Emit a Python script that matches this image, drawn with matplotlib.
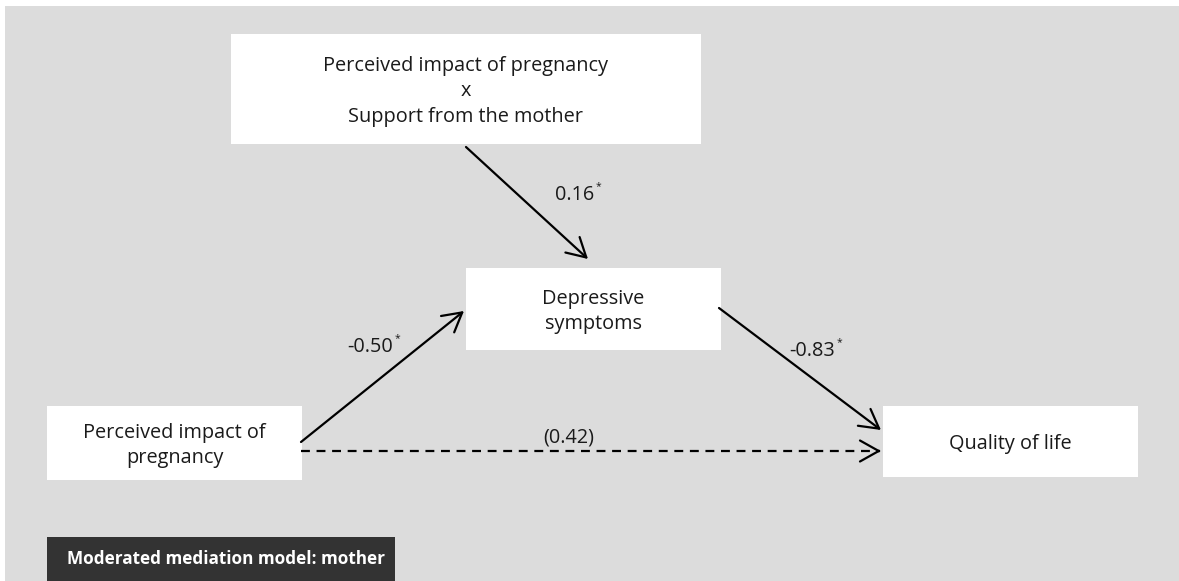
import matplotlib
matplotlib.use("Agg")
import matplotlib.pyplot as plt
from matplotlib.patches import Rectangle, FancyArrowPatch

# ---- content ----
node_names = ["moderator", "mediator", "predictor", "outcome"]
node_labels = [
    "Perceived impact of pregnancy\nx\nSupport from the mother",
    "Depressive\nsymptoms",
    "Perceived impact of\npregnancy",
    "Quality of life",
]
path_names = ["moderator->mediator", "predictor->mediator", "mediator->outcome", "predictor->outcome"]
path_coefs = ["0.16", "-0.50", "-0.83", "(0.42)"]
path_significant = [True, True, True, False]
path_dashed = [False, False, False, True]
title_text = "Moderated mediation model: mother"

# ---- layout (pixel coordinates, y downward) ----
W, H = 1179, 581
boxes = {
    "moderator": (231, 34, 470, 110),
    "mediator": (466, 268, 255, 82),
    "predictor": (47, 406, 255, 74),
    "outcome": (883, 406, 255, 71),
}
arrows = {
    "moderator->mediator": ((466, 147), (588, 259)),
    "predictor->mediator": ((301, 442), (464, 311)),
    "mediator->outcome": ((719, 308), (881, 430)),
    "predictor->outcome": ((301, 451), (881, 451)),
}
label_pos = {
    "moderator->mediator": (575, 195),
    "predictor->mediator": (370, 347),
    "mediator->outcome": (812, 351),
    "predictor->outcome": (569, 438),
}

FONT = ["Open Sans", "DejaVu Sans"]
plt.rcParams["font.family"] = FONT
FS = 14.3
TXT = "#1a1a1a"

fig = plt.figure(figsize=(W / 100, H / 100), dpi=100)
fig.patch.set_facecolor("white")
ax = fig.add_axes([0, 0, 1, 1])
ax.set_xlim(0, W)
ax.set_ylim(H, 0)
ax.axis("off")

# background panel
ax.add_patch(Rectangle((5, 6), W - 5, H - 6, facecolor="#dcdcdc", edgecolor="none", zorder=0))

# boxes
for name, label in zip(node_names, node_labels):
    x, y, w, h = boxes[name]
    ax.add_patch(Rectangle((x, y), w, h, facecolor="white", edgecolor="none", zorder=1))
    ax.text(x + w / 2, y + h / 2 + 2.5, label, ha="center", va="center", fontsize=FS,
            color=TXT, linespacing=1.36, zorder=3)

HEAD = "->,head_length=0.75,head_width=0.42"

# arrows
for name, coef, sig, dashed in zip(path_names, path_coefs, path_significant, path_dashed):
    (x0, y0), (x1, y1) = arrows[name]
    if dashed:
        ax.plot([x0, x1 - 1], [y0, y1], color="black", lw=1.6,
                linestyle=(0, (4, 3)), solid_capstyle="butt", zorder=2)
        ax.add_patch(FancyArrowPatch((x1 - 3, y1), (x1, y1), arrowstyle=HEAD,
                                     mutation_scale=18, lw=1.6, color="black",
                                     shrinkA=0, shrinkB=0, zorder=2))
    else:
        ax.add_patch(FancyArrowPatch((x0, y0), (x1, y1), arrowstyle=HEAD,
                                     mutation_scale=18, lw=1.6, color="black",
                                     shrinkA=0, shrinkB=0, zorder=2))
    lx, ly = label_pos[name]
    t = ax.text(lx, ly, coef, ha="center", va="center", fontsize=FS, color=TXT, zorder=3)
    if sig:
        ax.annotate("*", xy=(1, 1), xycoords=t, xytext=(1.0, -1.5), textcoords="offset points",
                    ha="left", va="center", fontsize=7.5, color=TXT, zorder=3)

# footer title bar
ax.add_patch(Rectangle((47, 537), 348, H - 537, facecolor="#333333", edgecolor="none", zorder=1))
ax.text(67, 559, title_text, ha="left", va="center", fontsize=12.3, fontweight="bold",
        color="white", zorder=3)

fig.savefig("out.png", dpi=100, facecolor="white")
